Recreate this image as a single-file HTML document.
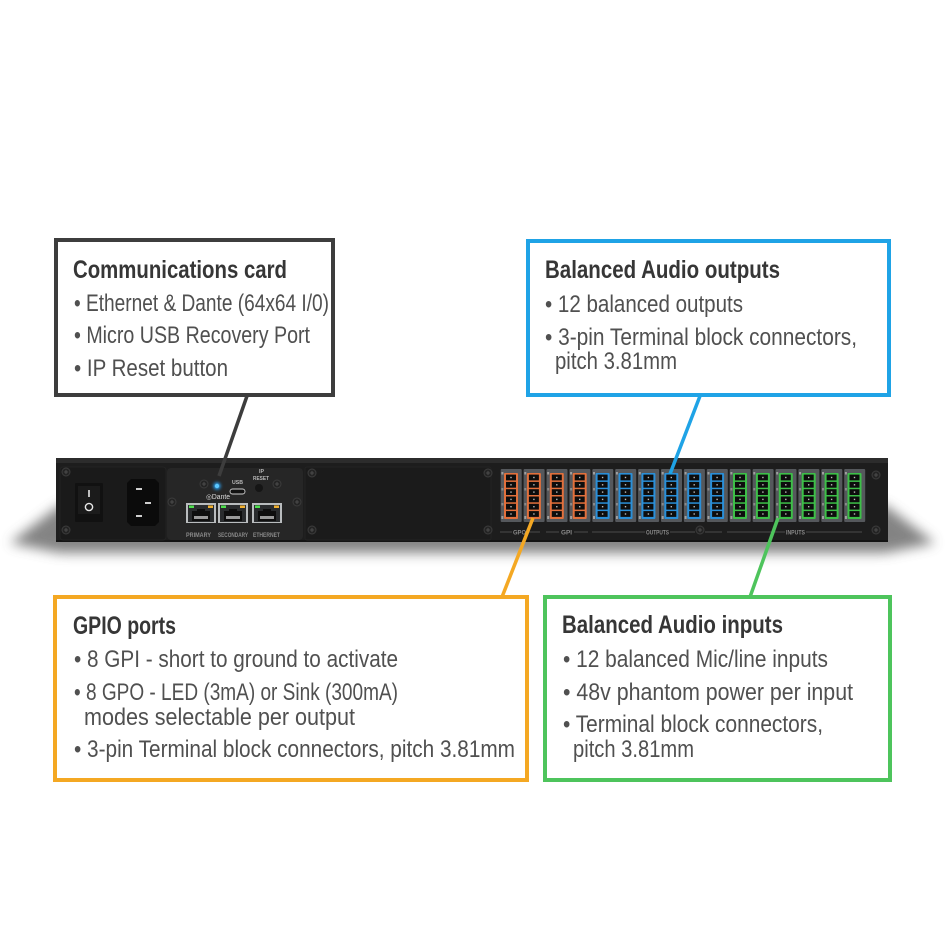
<!DOCTYPE html>
<html><head><meta charset="utf-8"><style>
html,body{margin:0;padding:0;background:#fff;}
svg{display:block;}
.t{font-family:"Liberation Sans Narrow","Liberation Sans",sans-serif;font-weight:bold;font-size:25px;fill:#363636;}
.b{font-family:"Liberation Sans Narrow","Liberation Sans",sans-serif;font-size:24px;fill:#505050;}
.s{font-family:"Liberation Sans Narrow","Liberation Sans",sans-serif;font-weight:bold;font-size:6px;fill:#8a8a8a;}
.w{font-family:"Liberation Sans Narrow","Liberation Sans",sans-serif;font-weight:bold;font-size:5.5px;fill:#b8b8b8;}
</style></head><body>
<svg width="945" height="945" viewBox="0 0 945 945" xmlns="http://www.w3.org/2000/svg">
<defs>
<filter id="blur" x="-20%" y="-100%" width="140%" height="300%"><feGaussianBlur stdDeviation="6"/></filter>
<filter id="glow" x="-200%" y="-200%" width="500%" height="500%"><feGaussianBlur stdDeviation="1.5"/></filter>
<g id="screw">
<circle r="4" fill="#242424" stroke="#3c3c3c" stroke-width="1"/>
<path d="M-2 0H2M0 -2V2" stroke="#555" stroke-width="0.8"/>
</g>
<g id="conn">
<rect x="-3.3" y="469" width="21" height="53" rx="1" fill="#55585c"/>
<rect x="-2.6" y="472" width="2" height="2.5" fill="#a0a0a0"/>
<rect x="-2.6" y="488" width="2" height="2.5" fill="#8a8a8a"/>
<rect x="-2.6" y="503" width="2" height="2.5" fill="#8a8a8a"/>
<rect x="-2.6" y="516" width="2" height="3" fill="#a0a0a0"/>
<rect x="0" y="473" width="14" height="46" rx="1" fill="currentColor"/>
<rect x="2" y="474.6" width="10" height="5.8" fill="#0d0d0d"/>
<rect x="2" y="481.9" width="10" height="5.8" fill="#0d0d0d"/>
<rect x="2" y="489.2" width="10" height="5.8" fill="#0d0d0d"/>
<rect x="2" y="496.5" width="10" height="5.8" fill="#0d0d0d"/>
<rect x="2" y="503.8" width="10" height="5.8" fill="#0d0d0d"/>
<rect x="2" y="511.1" width="10" height="5.8" fill="#0d0d0d"/>
<rect x="6.3" y="476.8" width="1.4" height="1.4" fill="#bbb"/>
<rect x="6.3" y="484.1" width="1.4" height="1.4" fill="#bbb"/>
<rect x="6.3" y="491.4" width="1.4" height="1.4" fill="#bbb"/>
<rect x="6.3" y="498.7" width="1.4" height="1.4" fill="#bbb"/>
<rect x="6.3" y="506" width="1.4" height="1.4" fill="#bbb"/>
<rect x="6.3" y="513.3" width="1.4" height="1.4" fill="#bbb"/>
</g>
<g id="rj">
<rect x="0" y="0" width="30" height="20" fill="#b9bcbe"/>
<rect x="2" y="2" width="26" height="17" fill="#2a2c2e"/>
<rect x="3" y="2.5" width="5" height="2.5" fill="#4ee04e"/>
<rect x="22" y="2.5" width="5" height="2.5" fill="#f0b030"/>
<path d="M6 8H11V6H19V8H24V18H6Z" fill="#0e0e0e"/>
<rect x="8" y="13" width="14" height="3" fill="#9a9a9a"/>
</g>
</defs>

<!-- shadow -->
<polygon points="10,543 60,505 885,505 935,543 885,553 60,553" fill="#5a5a5a" filter="url(#blur)" opacity="0.75"/>

<!-- device body -->
<rect x="56" y="458" width="832" height="84" fill="#1d1d1d"/>
<rect x="56" y="458" width="832" height="5" fill="#2c2c2c"/>
<rect x="56" y="540" width="832" height="2" fill="#141414"/>

<!-- power section -->
<rect x="60" y="467" width="106" height="73" rx="3" fill="#1a1a1a" stroke="#232323"/>
<use href="#screw" x="66" y="472"/>
<use href="#screw" x="66" y="530"/>
<rect x="75" y="483" width="28" height="39" rx="1" fill="#111"/>
<rect x="78" y="486" width="22" height="28" fill="#1b1b1b"/>
<rect x="88.2" y="490" width="1.6" height="7" fill="#e8e8e8"/>
<circle cx="89" cy="507" r="3.6" fill="none" stroke="#e8e8e8" stroke-width="1.4"/>
<path d="M131 479H155L159 483V522L155 526H131L127 522V483Z" fill="#0b0b0b"/>
<rect x="136" y="488" width="6" height="2" fill="#cfcfcf"/>
<rect x="145" y="502" width="6" height="2" fill="#cfcfcf"/>
<rect x="136" y="515" width="6" height="2" fill="#cfcfcf"/>

<!-- comm card -->
<rect x="167" y="468" width="136" height="72" rx="4" fill="#262626"/>
<use href="#screw" x="172" y="502"/>
<use href="#screw" x="204" y="484"/>
<use href="#screw" x="277" y="484"/>
<use href="#screw" x="297" y="502"/>
<circle cx="217" cy="486" r="3.5" fill="#2aa8ff" filter="url(#glow)"/>
<circle cx="217" cy="486" r="2.2" fill="#5cc8ff"/>
<text x="232" y="484" class="w" textLength="11" lengthAdjust="spacingAndGlyphs">USB</text>
<rect x="230" y="489" width="15" height="5" rx="2.5" fill="#111" stroke="#cfcfcf" stroke-width="0.9"/>
<text x="259" y="473" class="w" textLength="5" lengthAdjust="spacingAndGlyphs">IP</text>
<text x="253" y="480" class="w" textLength="16" lengthAdjust="spacingAndGlyphs">RESET</text>
<circle cx="259" cy="488" r="4" fill="#151515"/>
<text x="206" y="499" font-family="Liberation Sans, sans-serif" font-size="7" fill="#dcdcdc" textLength="24" lengthAdjust="spacingAndGlyphs">◎Dante</text>
<use href="#rj" x="186" y="503"/>
<use href="#rj" x="218" y="503"/>
<use href="#rj" x="252" y="503"/>
<text x="186" y="537" class="s" textLength="25" lengthAdjust="spacingAndGlyphs">PRIMARY</text>
<text x="218" y="537" class="s" textLength="30" lengthAdjust="spacingAndGlyphs">SECONDARY</text>
<text x="253" y="537" class="s" textLength="27" lengthAdjust="spacingAndGlyphs">ETHERNET</text>

<!-- blank plate -->
<rect x="305" y="467" width="186" height="73" rx="2" fill="#1b1b1b" stroke="#232323"/>
<use href="#screw" x="312" y="473"/>
<use href="#screw" x="312" y="530"/>
<use href="#screw" x="488" y="473"/>
<use href="#screw" x="488" y="530"/>

<!-- connectors -->
<g color="#e2703c">
<use href="#conn" x="504"/><use href="#conn" x="526.9"/><use href="#conn" x="549.8"/><use href="#conn" x="572.7"/>
</g>
<g color="#2a8fd8">
<use href="#conn" x="595.6"/><use href="#conn" x="618.5"/><use href="#conn" x="641.4"/><use href="#conn" x="664.3"/><use href="#conn" x="687.2"/><use href="#conn" x="710.1"/>
</g>
<g color="#3dbf48">
<use href="#conn" x="733"/><use href="#conn" x="755.9"/><use href="#conn" x="778.8"/><use href="#conn" x="801.7"/><use href="#conn" x="824.6"/><use href="#conn" x="847.5"/>
</g>
<use href="#screw" x="700" y="530"/>
<use href="#screw" x="876" y="475"/>
<use href="#screw" x="876" y="530"/>
<g stroke="#5a5a5a" stroke-width="0.7">
<path d="M500 532H512M528 532H540M546 532H559M574 532H588M592 532H645M670 532H695M705 532H722M727 532H785M806 532H862"/>
</g>
<text x="513" y="534.5" class="s" textLength="13" lengthAdjust="spacingAndGlyphs">GPO</text>
<text x="561" y="534.5" class="s" textLength="11" lengthAdjust="spacingAndGlyphs">GPI</text>
<text x="646" y="534.5" class="s" textLength="23" lengthAdjust="spacingAndGlyphs">OUTPUTS</text>
<text x="786" y="534.5" class="s" textLength="19" lengthAdjust="spacingAndGlyphs">INPUTS</text>

<!-- leader lines -->
<g stroke-width="3.5" stroke-linecap="butt">
<line x1="247" y1="396" x2="219" y2="476" stroke="#3d3d3d"/>
<line x1="700" y1="396" x2="670" y2="474" stroke="#1fa3e6"/>
<line x1="533" y1="518" x2="502" y2="597" stroke="#f4a823"/>
<line x1="778" y1="518" x2="750" y2="597" stroke="#4ec45c"/>
</g>

<!-- boxes -->
<rect x="56" y="240" width="277" height="155" fill="#fff" stroke="#3d3d3d" stroke-width="4"/>
<rect x="528" y="241" width="361" height="154" fill="#fff" stroke="#1fa3e6" stroke-width="4"/>
<rect x="55" y="597" width="472" height="183" fill="#fff" stroke="#f4a823" stroke-width="4"/>
<rect x="545" y="597" width="345" height="183" fill="#fff" stroke="#4ec45c" stroke-width="4"/>

<!-- comm text -->
<text x="73" y="278" class="t" textLength="214" lengthAdjust="spacingAndGlyphs">Communications card</text>
<text x="74" y="311" class="b" textLength="255" lengthAdjust="spacingAndGlyphs">• Ethernet &amp; Dante (64x64 I/0)</text>
<text x="74" y="343" class="b" textLength="236" lengthAdjust="spacingAndGlyphs">• Micro USB Recovery Port</text>
<text x="74" y="376" class="b" textLength="154" lengthAdjust="spacingAndGlyphs">• IP Reset button</text>

<!-- outputs text -->
<text x="545" y="278" class="t" textLength="235" lengthAdjust="spacingAndGlyphs">Balanced Audio outputs</text>
<text x="545" y="312" class="b" textLength="198" lengthAdjust="spacingAndGlyphs">• 12 balanced outputs</text>
<text x="545" y="345" class="b" textLength="312" lengthAdjust="spacingAndGlyphs">• 3-pin Terminal block connectors,</text>
<text x="555" y="369" class="b" textLength="122" lengthAdjust="spacingAndGlyphs">pitch 3.81mm</text>

<!-- gpio text -->
<text x="73" y="634" class="t" textLength="103" lengthAdjust="spacingAndGlyphs">GPIO ports</text>
<text x="74" y="667" class="b" textLength="324" lengthAdjust="spacingAndGlyphs">• 8 GPI - short to ground to activate</text>
<text x="74" y="700" class="b" textLength="324" lengthAdjust="spacingAndGlyphs">• 8 GPO - LED (3mA) or Sink (300mA)</text>
<text x="84" y="725" class="b" textLength="271" lengthAdjust="spacingAndGlyphs">modes selectable per output</text>
<text x="74" y="757" class="b" textLength="441" lengthAdjust="spacingAndGlyphs">• 3-pin Terminal block connectors, pitch 3.81mm</text>

<!-- inputs text -->
<text x="562" y="633" class="t" textLength="221" lengthAdjust="spacingAndGlyphs">Balanced Audio inputs</text>
<text x="563" y="667" class="b" textLength="265" lengthAdjust="spacingAndGlyphs">• 12 balanced Mic/line inputs</text>
<text x="563" y="700" class="b" textLength="290" lengthAdjust="spacingAndGlyphs">• 48v phantom power per input</text>
<text x="563" y="732" class="b" textLength="260" lengthAdjust="spacingAndGlyphs">• Terminal block connectors,</text>
<text x="573" y="757" class="b" textLength="121" lengthAdjust="spacingAndGlyphs">pitch 3.81mm</text>
</svg>
</body></html>
